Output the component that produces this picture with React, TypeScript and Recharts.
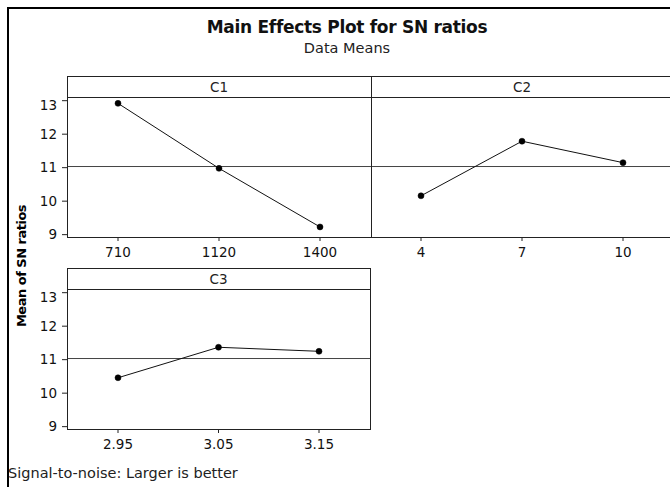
import { LineChart, Line, XAxis, YAxis, ReferenceLine } from 'recharts'

const C1_LEVELS = ['710', '1120', '1400']
const C1_MEANS = [12.92, 10.98, 9.23]
const C2_LEVELS = ['4', '7', '10']
const C2_MEANS = [10.16, 11.79, 11.15]
const C3_LEVELS = ['2.95', '3.05', '3.15']
const C3_MEANS = [10.46, 11.37, 11.25]
const Y_TICKS = [9, 10, 11, 12, 13]
const Y_DOMAIN: [number, number] = [8.93, 13.11]

const FONT = '"DejaVu Sans", Tahoma, sans-serif'
const INK = '#222'

const ALL_MEANS = [...C1_MEANS, ...C2_MEANS, ...C3_MEANS]
const GRAND_MEAN = ALL_MEANS.reduce((s, v) => s + v, 0) / ALL_MEANS.length

interface PanelProps {
  title: string
  levels: string[]
  means: number[]
  plotLeft: number
  plotWidth: number
  top: number
  showY: boolean
  pad: number
}

function Panel({ title, levels, means, plotLeft, plotWidth, top, showY, pad }: PanelProps) {
  const data = levels.map((level, i) => ({ level, sn: means[i] }))
  const yW = showY ? plotLeft : 0
  return (
    <>
      <LineChart
        width={yW + plotWidth}
        height={170}
        data={data}
        margin={{ top: 0, right: 0, bottom: 0, left: 0 }}
        style={{ position: 'absolute', left: showY ? 0 : plotLeft, top: top + 21 }}
      >
        <XAxis
          dataKey="level"
          height={30}
          padding={{ left: pad, right: pad }}
          axisLine={false}
          tickSize={4}
          tickMargin={6}
          tickLine={{ stroke: INK }}
          tick={{ fontSize: 13.5, fill: '#111', fontFamily: FONT }}
        />
        <YAxis
          hide={!showY}
          width={yW}
          type="number"
          domain={Y_DOMAIN}
          ticks={Y_TICKS}
          allowDataOverflow
          axisLine={false}
          tickSize={5}
          tickMargin={5}
          tickLine={{ stroke: INK }}
          tick={{ fontSize: 13.5, fill: '#111', fontFamily: FONT }}
        />
        <ReferenceLine y={GRAND_MEAN} stroke="#444" strokeWidth={1} />
        <Line
          dataKey="sn"
          type="linear"
          stroke="#111"
          strokeWidth={1}
          dot={{ r: 3, fill: '#000', stroke: '#000', strokeWidth: 0.5 }}
          isAnimationActive={false}
        />
      </LineChart>
      <div
        style={{
          position: 'absolute',
          left: plotLeft,
          top,
          width: plotWidth + 1,
          height: 162,
          border: `1px solid ${INK}`,
          boxSizing: 'border-box',
          pointerEvents: 'none',
        }}
      />
      <div
        style={{
          position: 'absolute',
          left: plotLeft,
          top: top + 21,
          width: plotWidth + 1,
          height: 1,
          background: INK,
        }}
      />
      <div
        style={{
          position: 'absolute',
          left: plotLeft,
          top: top + 2,
          width: plotWidth,
          height: 18,
          lineHeight: '18px',
          textAlign: 'center',
          fontFamily: FONT,
          fontSize: 13.5,
          color: INK,
        }}
      >
        {title}
      </div>
    </>
  )
}

export default function App() {
  return (
    <div
      style={{
        position: 'fixed',
        left: 0,
        top: 0,
        width: 670,
        height: 487,
        overflow: 'hidden',
        background: '#fff',
        fontFamily: FONT,
      }}
    >
      <div
        style={{
          position: 'absolute',
          left: 7,
          top: 7,
          width: 700,
          height: 500,
          borderLeft: '2px solid #000',
          borderTop: '2px solid #000',
        }}
      />
      <div
        style={{
          position: 'absolute',
          left: 147,
          top: 17,
          width: 400,
          textAlign: 'center',
          fontSize: 17,
          letterSpacing: -0.3,
          fontWeight: 'bold',
          color: '#111',
        }}
      >
        Main Effects Plot for SN ratios
      </div>
      <div
        style={{
          position: 'absolute',
          left: 147,
          top: 40,
          width: 400,
          textAlign: 'center',
          fontSize: 14.5,
          color: INK,
        }}
      >
        Data Means
      </div>
      <div
        style={{
          position: 'absolute',
          left: 22 - 80,
          top: 266 - 10,
          width: 160,
          height: 20,
          lineHeight: '20px',
          textAlign: 'center',
          transform: 'rotate(-90deg)',
          fontSize: 13,
          letterSpacing: -0.5,
          fontWeight: 'bold',
          color: '#000',
        }}
      >
        Mean of SN ratios
      </div>
      <Panel title="C1" levels={C1_LEVELS} means={C1_MEANS} plotLeft={67} plotWidth={304} top={76} showY pad={51} />
      <Panel title="C2" levels={C2_LEVELS} means={C2_MEANS} plotLeft={371} plotWidth={302} top={76} showY={false} pad={50} />
      <Panel title="C3" levels={C3_LEVELS} means={C3_MEANS} plotLeft={67} plotWidth={303} top={268} showY pad={51} />
      <div
        style={{
          position: 'absolute',
          left: 8,
          top: 465,
          fontSize: 14.5,
          color: INK,
        }}
      >
        Signal-to-noise: Larger is better
      </div>
    </div>
  )
}
